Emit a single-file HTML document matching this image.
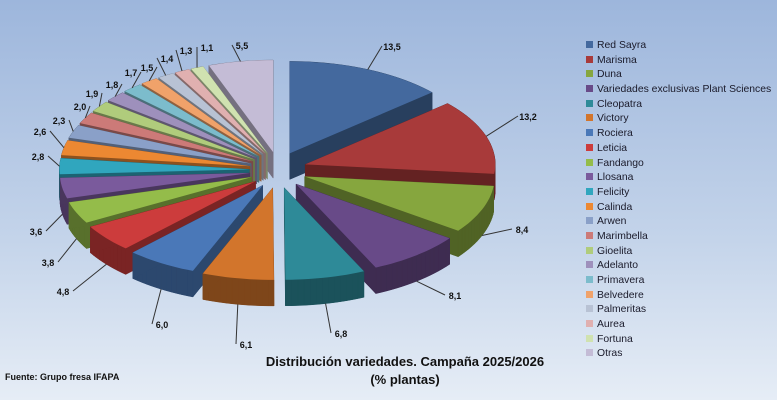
<!DOCTYPE html>
<html><head><meta charset="utf-8"><style>
body{margin:0;width:777px;height:400px;overflow:hidden;background:linear-gradient(#9db6dc,#c4d4ea 60%,#e6edf6);font-family:"Liberation Sans",sans-serif;}
svg{position:absolute;left:0;top:0}
.lg{position:absolute;left:586px;top:39px;font-size:10.4px;color:#1a1a2a}
.lg div{height:14.7px;line-height:14.7px;white-space:nowrap}
.lg span{display:inline-block;width:7px;height:7px;margin-right:4px;vertical-align:0px}
.t{position:absolute;font-weight:bold;color:#111}
</style></head><body>
<svg id="s" width="777" height="400" font-family="Liberation Sans" font-size="9" font-weight="bold" fill="#111">
<g id="pie"></g><g id="ln" stroke="#333" stroke-width="1" fill="none"></g>
<text x="392" y="50" text-anchor="middle">13,5</text>
<text x="528" y="120" text-anchor="middle">13,2</text>
<text x="522" y="233" text-anchor="middle">8,4</text>
<text x="455" y="299" text-anchor="middle">8,1</text>
<text x="341" y="337" text-anchor="middle">6,8</text>
<text x="246" y="348" text-anchor="middle">6,1</text>
<text x="162" y="328" text-anchor="middle">6,0</text>
<text x="63" y="295" text-anchor="middle">4,8</text>
<text x="48" y="266" text-anchor="middle">3,8</text>
<text x="36" y="235" text-anchor="middle">3,6</text>
<text x="38" y="160" text-anchor="middle">2,8</text>
<text x="40" y="135" text-anchor="middle">2,6</text>
<text x="59" y="124" text-anchor="middle">2,3</text>
<text x="80" y="110" text-anchor="middle">2,0</text>
<text x="92" y="97" text-anchor="middle">1,9</text>
<text x="112" y="88" text-anchor="middle">1,8</text>
<text x="131" y="76" text-anchor="middle">1,7</text>
<text x="147" y="71" text-anchor="middle">1,5</text>
<text x="167" y="62" text-anchor="middle">1,4</text>
<text x="186" y="54" text-anchor="middle">1,3</text>
<text x="207" y="51" text-anchor="middle">1,1</text>
<text x="242" y="49" text-anchor="middle">5,5</text>
</svg>
<div class="lg">
<div><span style="background:#44699e"></span>Red Sayra</div>
<div><span style="background:#a83a3a"></span>Marisma</div>
<div><span style="background:#86a63e"></span>Duna</div>
<div><span style="background:#684a88"></span>Variedades exclusivas Plant Sciences</div>
<div><span style="background:#2e8a98"></span>Cleopatra</div>
<div><span style="background:#d2752c"></span>Victory</div>
<div><span style="background:#4a78b8"></span>Rociera</div>
<div><span style="background:#cc3c3c"></span>Leticia</div>
<div><span style="background:#94bc4a"></span>Fandango</div>
<div><span style="background:#7a5a9c"></span>Llosana</div>
<div><span style="background:#30a6be"></span>Felicity</div>
<div><span style="background:#ec8832"></span>Calinda</div>
<div><span style="background:#8aa0c8"></span>Arwen</div>
<div><span style="background:#cc7a78"></span>Marimbella</div>
<div><span style="background:#b0cc7c"></span>Gioelita</div>
<div><span style="background:#9e90bc"></span>Adelanto</div>
<div><span style="background:#7cbccc"></span>Primavera</div>
<div><span style="background:#f0a26a"></span>Belvedere</div>
<div><span style="background:#b8c2d4"></span>Palmeritas</div>
<div><span style="background:#e0b0b0"></span>Aurea</div>
<div><span style="background:#d0e2b0"></span>Fortuna</div>
<div><span style="background:#c4bcd6"></span>Otras</div>
</div>
<div class="t" style="left:5px;top:372px;font-size:9px">Fuente: Grupo fresa IFAPA</div>
<div class="t" style="left:255px;top:353px;width:300px;text-align:center;font-size:13px;line-height:18px">Distribución variedades. Campaña 2025/2026<br>(% plantas)</div>
<script>
var v=[13.5,13.2,8.4,8.1,6.8,6.1,6.0,4.8,3.8,3.6,2.8,2.6,2.3,2.0,1.9,1.8,1.7,1.5,1.4,1.3,1.1,5.5];
var c=["#44699e","#a83a3a","#86a63e","#684a88","#2e8a98","#d2752c","#4a78b8","#cc3c3c","#94bc4a","#7a5a9c","#30a6be","#ec8832","#8aa0c8","#cc7a78","#b0cc7c","#9e90bc","#7cbccc","#f0a26a","#b8c2d4","#e0b0b0","#d0e2b0","#c4bcd6"];
var lp=[[392,50],[528,120],[522,233],[455,299],[341,337],[246,348],[162,328],[63,295],[48,266],[36,235],[38,160],[40,135],[59,124],[80,110],[92,97],[112,88],[131,76],[147,71],[167,62],[186,54],[207,51],[242,49]];
var tot=v.reduce(function(a,b){return a+b},0);
var cx=278,cy=170,rx=190,ry=92,ex=26,D=26;
function dk(h,f){var n=parseInt(h.slice(1),16);var r=(n>>16)*f|0,g=((n>>8)&255)*f|0,b=(n&255)*f|0;return "rgb("+r+","+g+","+b+")";}
var sl=[],a=0;
for(var i=0;i<v.length;i++){var a0=a,a1=a+v[i]/tot*2*Math.PI;a=a1;var m=(a0+a1)/2;
var ox=cx+ex*Math.sin(m)*1.1,oy=cy-ex*Math.cos(m)*0.7;
var pts=[[ox,oy]];var n=Math.max(3,Math.ceil((a1-a0)*30));
for(var k=0;k<=n;k++){var t=a0+(a1-a0)*k/n;pts.push([ox+rx*Math.sin(t),oy-ry*Math.cos(t)]);}
sl.push({i:i,pts:pts,m:m,ox:ox,oy:oy,a0:a0,a1:a1});}
sl.sort(function(p,q){return (-Math.cos(p.m))-(-Math.cos(q.m));});
var g=document.getElementById("pie"),h="";
function P(p,dy){return p.map(function(q){return q[0].toFixed(1)+","+(q[1]+dy).toFixed(1)}).join(" ");}
sl.forEach(function(s){var col=c[s.i];
h+='<polygon points="'+P(s.pts,D)+'" fill="'+dk(col,0.45)+'"/>';
var p=s.pts;for(var k=0;k<p.length;k++){var q=p[k],r=p[(k+1)%p.length];
h+='<polygon points="'+q[0]+','+q[1]+' '+r[0]+','+r[1]+' '+r[0]+','+(r[1]+D)+' '+q[0]+','+(q[1]+D)+'" fill="'+dk(col,0.6)+'" stroke="'+dk(col,0.6)+'" stroke-width="0.5"/>';}
h+='<polygon points="'+P(s.pts,0)+'" fill="'+col+'"/>';});
g.innerHTML=h;
var L="";sl.forEach(function(s){var m=s.m,x=s.ox+rx*Math.sin(m),y=s.oy-ry*Math.cos(m)+(Math.cos(m)<0?D:0);var l=lp[s.i];
L+='<line x1="'+x+'" y1="'+y+'" x2="'+(l[0]+(l[0]<x?10:-10))+'" y2="'+(l[1]-4)+'"/>';});
document.getElementById("ln").innerHTML=L;
</script>
</body></html>
